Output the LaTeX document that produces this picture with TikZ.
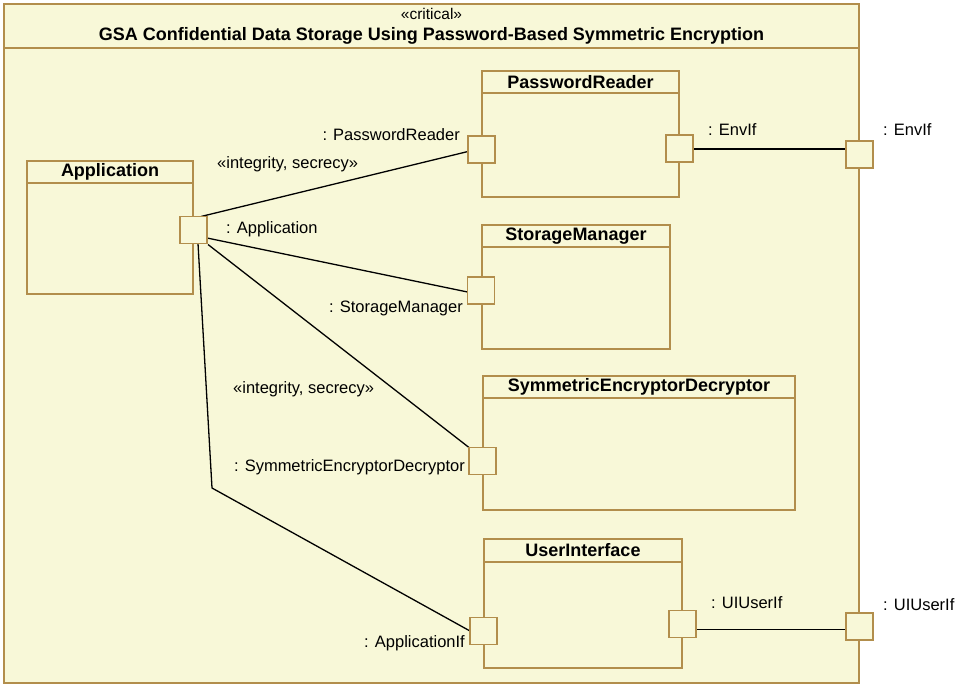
\documentclass[tikz,border=0pt]{standalone}
\usepackage{fontspec}
\setmainfont{Liberation Sans}
\usetikzlibrary{calc}
\definecolor{umlfill}{RGB}{248,248,216}
\definecolor{umledge}{RGB}{178,142,76}

% a part: name, left, top, width, height, header height, title
\newcommand\umlpart[7]{%
  \node[part, anchor=north west, minimum width=#4pt, minimum height=#5pt] (#1) at (#2,#3) {};
  \draw[edge] ($(#1.north west)+(0,#6)$) -- ($(#1.north east)+(0,#6)$);
  \node[ttl] (#1-t) at ($(#1.north)+(0,#6/2)$) {#7};
}

\begin{document}
\begin{tikzpicture}[x=1pt,y=-1pt,
  lbl/.style={font=\fontsize{16.5}{18}\selectfont, inner sep=0pt},
  ttl/.style={font=\fontsize{18}{20}\selectfont\bfseries, inner sep=0pt},
  edge/.style={draw=umledge, line width=1.6pt},
  part/.style={edge, fill=umlfill, rectangle, inner sep=0pt, outer sep=0pt},
  port/.style={part, minimum size=27pt},
  wire/.style={draw=black, line width=1.3pt}]
\useasboundingbox (0,0) rectangle (956,684);

% enclosing component
\umlpart{frame}{4}{4}{855}{679}{44}{}
\node[lbl, font=\fontsize{15.5}{17}\selectfont] (stereo) at (431.5,14) {«critical»};
\node[ttl] (frametitle) at (431.5,36) {GSA Confidential Data Storage Using Password-Based Symmetric Encryption};

% inner parts
\umlpart{app}{27}{161}{166}{133}{22}{Application}
\umlpart{pr}{482}{71}{197}{126}{22}{PasswordReader}
\umlpart{sm}{482}{225}{188}{124}{22}{StorageManager}
\umlpart{se}{483}{376}{312}{134}{22}{SymmetricEncryptorDecryptor}
\umlpart{ui}{484}{539}{198}{129}{23}{UserInterface}

% connectors
\coordinate (bend) at (212,488);
\coordinate (appP-c) at (193.5,230);
\coordinate (prL-c) at (481.5,149.5);
\coordinate (prR-c) at (679.5,148.5);
\coordinate (envO-c) at (859.5,154.5);
\coordinate (smL-c) at (481,290.5);
\coordinate (seL-c) at (482.5,461);
\coordinate (uiL-c) at (483.5,631);
\coordinate (uiR-c) at (682.5,624);
\coordinate (uiO-c) at (859.5,626.5);

\node[port] (appP) at (appP-c) {};
\node[port] (prL) at (prL-c) {};
\node[port] (prR) at (prR-c) {};
\node[port] (envO) at (envO-c) {};
\node[port] (smL) at (smL-c) {};
\node[port] (seL) at (seL-c) {};
\node[port] (uiL) at (uiL-c) {};
\node[port] (uiR) at (uiR-c) {};
\node[port] (uiO) at (uiO-c) {};

\coordinate (envw) at ($(prR.east)+(0,0.5)$);
\coordinate (uiw) at ($(uiR.east)+(0,5.5)$);

\draw[wire] ($(appP.north east)+(-6,0)$) -- ($(prL.west)+(0,2)$);
\draw[wire] ($(appP.east)+(0,8)$) -- ($(smL.west)+(0,1.5)$);
\draw[wire] ($(appP.south east)+(1,1)$) -- (seL.north west);
\draw[wire] ($(appP.south)+(4.5,0)$) -- (bend) -- (uiL.west);
\draw[wire] (envw) -- (envw -| envO.west);
\draw[wire] (uiw) -- (uiw -| uiO.west);

% ports drawn again on top of the wire ends
\foreach \p in {appP,prL,prR,envO,smL,seL,uiL,uiR,uiO}
  \draw[part] (\p.north west) rectangle (\p.south east);

% role and stereotype labels
\node[lbl, anchor=east] (lPR) at (460,135) {: PasswordReader};
\node[lbl, anchor=west] (lSt1) at (217,164) {«integrity, secrecy»};
\node[lbl, anchor=west] (lApp) at (226,229) {: Application};
\node[lbl, anchor=east] (lSM) at (463,308) {: StorageManager};
\node[lbl, anchor=west] (lSt2) at (233,389) {«integrity, secrecy»};
\node[lbl, anchor=east] (lSE) at (465,467) {: SymmetricEncryptorDecryptor};
\node[lbl, anchor=east] (lAI) at (465,643) {: ApplicationIf};
\node[lbl, anchor=west] (lEnv1) at (708,130) {: EnvIf};
\node[lbl, anchor=west] (lEnv2) at (883,130) {: EnvIf};
\node[lbl, anchor=west] (lUI1) at (711,603) {: UIUserIf};
\node[lbl, anchor=west] (lUI2) at (883,605) {: UIUserIf};
\end{tikzpicture}
\end{document}
